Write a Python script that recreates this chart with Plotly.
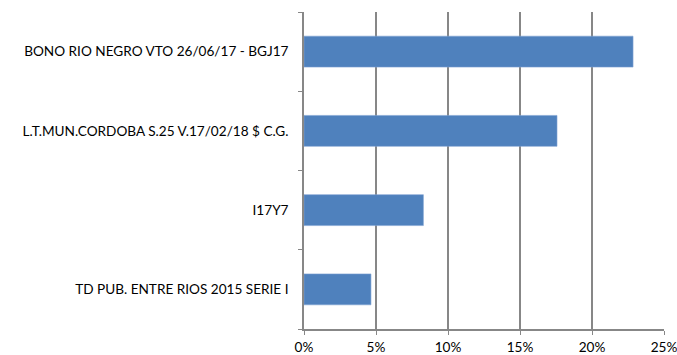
import plotly.graph_objects as go

categories = [
    "TD PUB. ENTRE RIOS 2015 SERIE I",
    "I17Y7",
    "L.T.MUN.CORDOBA S.25 V.17/02/18 $ C.G.",
    "BONO RIO NEGRO VTO 26/06/17 - BGJ17",
]
shares = [0.0465, 0.0829, 0.1757, 0.2285]
x_ticks = [0, 0.05, 0.10, 0.15, 0.20, 0.25]
x_tick_labels = ["0%", "5%", "10%", "15%", "20%", "25%"]

grid_color = "#878787"
font = dict(family="Lato, 'Open Sans', sans-serif", size=13.6, color="#000000")

fig = go.Figure(
    go.Bar(
        y=categories,
        x=shares,
        orientation="h",
        marker=dict(color="#4F81BD", line=dict(color="#7FA3D3", width=0.6)),
        hoverinfo="skip",
    )
)

fig.update_layout(
    width=677,
    height=355,
    margin=dict(l=304, r=13, t=12, b=26),
    paper_bgcolor="white",
    plot_bgcolor="white",
    bargap=0.61,
    showlegend=False,
    font=font,
)

fig.update_xaxes(
    automargin=False,
    range=[0, 0.25],
    tickvals=x_ticks,
    ticktext=x_tick_labels,
    ticklabeloverflow="allow",
    showgrid=True,
    gridcolor=grid_color,
    gridwidth=1.5,
    zeroline=False,
    showline=True,
    linecolor=grid_color,
    linewidth=1.5,
    ticks="outside",
    ticklen=4,
    tickcolor=grid_color,
    tickwidth=1.2,
    ticklabelstandoff=1,
)

fig.update_yaxes(
    automargin=False,
    type="category",
    categoryorder="array",
    categoryarray=categories,
    showgrid=False,
    zeroline=False,
    showline=True,
    linecolor=grid_color,
    linewidth=1.5,
    ticks="outside",
    tickson="boundaries",
    ticklen=4,
    tickcolor=grid_color,
    tickwidth=1.2,
    ticklabelstandoff=11,
)

fig.write_html("out.html")
